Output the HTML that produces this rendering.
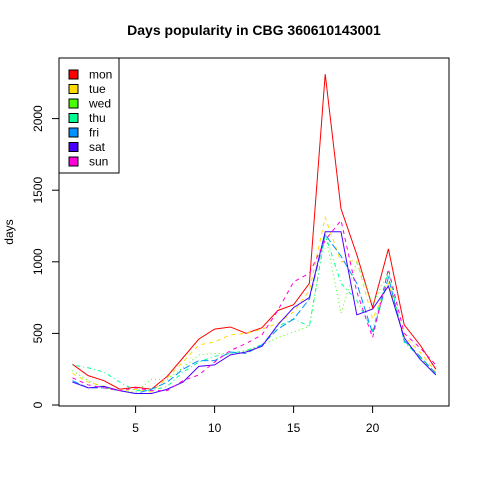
<!DOCTYPE html>
<html><head><meta charset="utf-8"><style>body{margin:0;background:#fff}svg{display:block}text{font-family:"Liberation Sans",sans-serif}</style></head>
<body>
<svg id="c" width="480" height="480"></svg>
<script>
const hours=[1,2,3,4,5,6,7,8,9,10,11,12,13,14,15,16,17,18,19,20,21,22,23,24];
const seriesNames=["mon","tue","wed","thu","fri","sat","sun"];
const mon=[285,205,170,110,125,110,200,330,460,530,545,500,540,660,700,850,2310,1370,1050,680,1090,560,420,250];
const tue=[220,160,130,100,110,90,190,300,420,440,490,500,530,570,650,800,1310,1000,1010,600,850,480,370,230];
const wed=[240,170,120,100,90,180,180,260,350,360,360,380,420,470,510,550,1200,640,1000,700,930,450,330,210];
const thu=[280,260,230,160,100,100,130,230,300,340,360,380,420,550,600,550,1190,850,730,520,930,440,330,210];
const fri=[170,120,120,100,80,110,160,250,310,310,370,360,420,530,600,740,1190,1040,850,500,890,450,340,220];
const sat=[160,120,130,100,80,80,110,160,270,280,350,370,410,560,680,750,1210,1210,630,670,830,470,320,210];
const sun=[190,140,120,100,120,100,100,170,210,300,380,430,490,660,860,920,1150,1290,790,470,950,500,400,280];
const xTicks=[5,10,15,20];
const yTicks=[0,500,1000,1500,2000];
const colors=["#FF0000","#FFDB00","#49FF00","#00FF92","#0092FF","#4900FF","#FF00DB"];
const dashes=["","4,4","1,3","1,3,4,3","7,3","","4,4"];
const all=[mon,tue,wed,thu,fri,sat,sun];
const X=v=>72.4+(v-1)*15.8, Y=v=>405-v*0.1432;
const svg=document.getElementById('c');const NS="http://www.w3.org/2000/svg";
function mk(t,a,p){const e=document.createElementNS(NS,t);for(const k in a)e.setAttribute(k,a[k]);(p||svg).appendChild(e);return e;}
let t=mk('text',{x:254,y:35,'text-anchor':'middle','font-size':14,'font-weight':'bold'});t.textContent="Days popularity in CBG 360610143001";


let box=mk('rect',{x:59,y:58,width:390,height:348,fill:'none',stroke:'#000'});


mk('line',{x1:X(5),x2:X(20),y1:406,y2:406,stroke:'#000'});
xTicks.forEach(v=>{mk('line',{x1:X(v),x2:X(v),y1:406,y2:413,stroke:'#000'});const l=mk('text',{x:X(v),y:432,'text-anchor':'middle','font-size':12});l.textContent=v;

});
mk('line',{x1:59,x2:59,y1:Y(0),y2:Y(2000),stroke:'#000'});
yTicks.forEach(v=>{mk('line',{x1:52,x2:59,y1:Y(v),y2:Y(v),stroke:'#000'});const l=mk('text',{x:42,y:Y(v),'text-anchor':'middle','font-size':12,transform:`rotate(-90 42 ${Y(v)})`});l.textContent=v;

});
let yl=mk('text',{x:13,y:232,'text-anchor':'middle','font-size':12,transform:'rotate(-90 13 232)'});yl.textContent="days";


all.forEach((s,i)=>{const p=mk('polyline',{points:s.map((v,j)=>X(hours[j])+','+Y(v)).join(' '),fill:'none',stroke:colors[i],'stroke-width':1,'stroke-dasharray':dashes[i]});

});
const lg=mk('g',{});


mk('rect',{x:59,y:58,width:60,height:115,fill:'#fff',stroke:'#000'},lg);
seriesNames.forEach((n,i)=>{const y=74+i*14.5;mk('rect',{x:69,y:y-4,width:9,height:9,fill:colors[i],stroke:'#000'},lg);const l=mk('text',{x:89,y:y+4.5,'font-size':12},lg);l.textContent=n;

});
</script>
</body></html>
